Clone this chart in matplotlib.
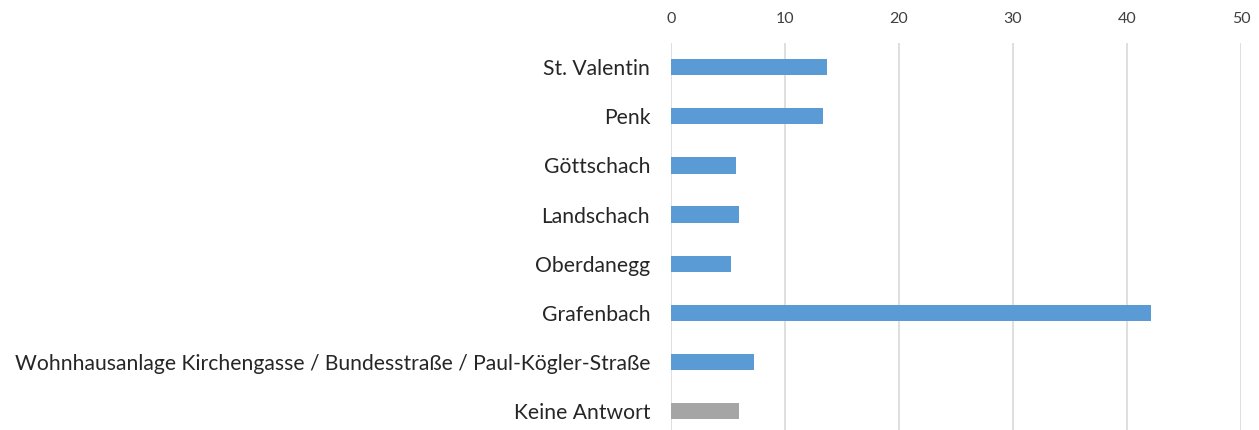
import matplotlib
matplotlib.use("Agg")
import matplotlib.pyplot as plt

# ==========================================
# Data
# ==========================================

categories = [
    "St. Valentin",
    "Penk",
    "Göttschach",
    "Landschach",
    "Oberdanegg",
    "Grafenbach",
    "Wohnhausanlage Kirchengasse / Bundesstraße / Paul-Kögler-Straße",
    "Keine Antwort",
]
values = [13.7, 13.3, 5.7, 6.0, 5.3, 42.1, 7.3, 6.0]
bar_colors = ["#5B9BD5"] * 7 + ["#A5A5A5"]
x_ticks = [0, 10, 20, 30, 40, 50]

# ==========================================
# Figure
# ==========================================

plt.rcParams["font.family"] = ["Lato", "DejaVu Sans"]

fig = plt.figure(figsize=(12.59, 4.30), dpi=100)
ax = fig.add_axes([671 / 1259, -5.6 / 430, 570 / 1259, 393 / 430])

y = list(range(len(categories)))
ax.barh(y, values, height=0.33, color=bar_colors, zorder=3)

ax.set_ylim(len(categories) - 0.5, -0.5)
ax.set_xlim(0, 50)
ax.set_yticks(y)
ax.set_yticklabels(categories, fontsize=15.2, color="#262626")
ax.set_xticks(x_ticks)
ax.xaxis.tick_top()
ax.tick_params(axis="x", labelsize=11.5, colors="#404040", length=0, pad=12)
ax.tick_params(axis="y", length=0, pad=15)

ax.grid(axis="x", color="#D9D9D9", linewidth=1.2, zorder=0)
for s in ax.spines.values():
    s.set_visible(False)

fig.savefig("out.png", dpi=100)
plt.close()
